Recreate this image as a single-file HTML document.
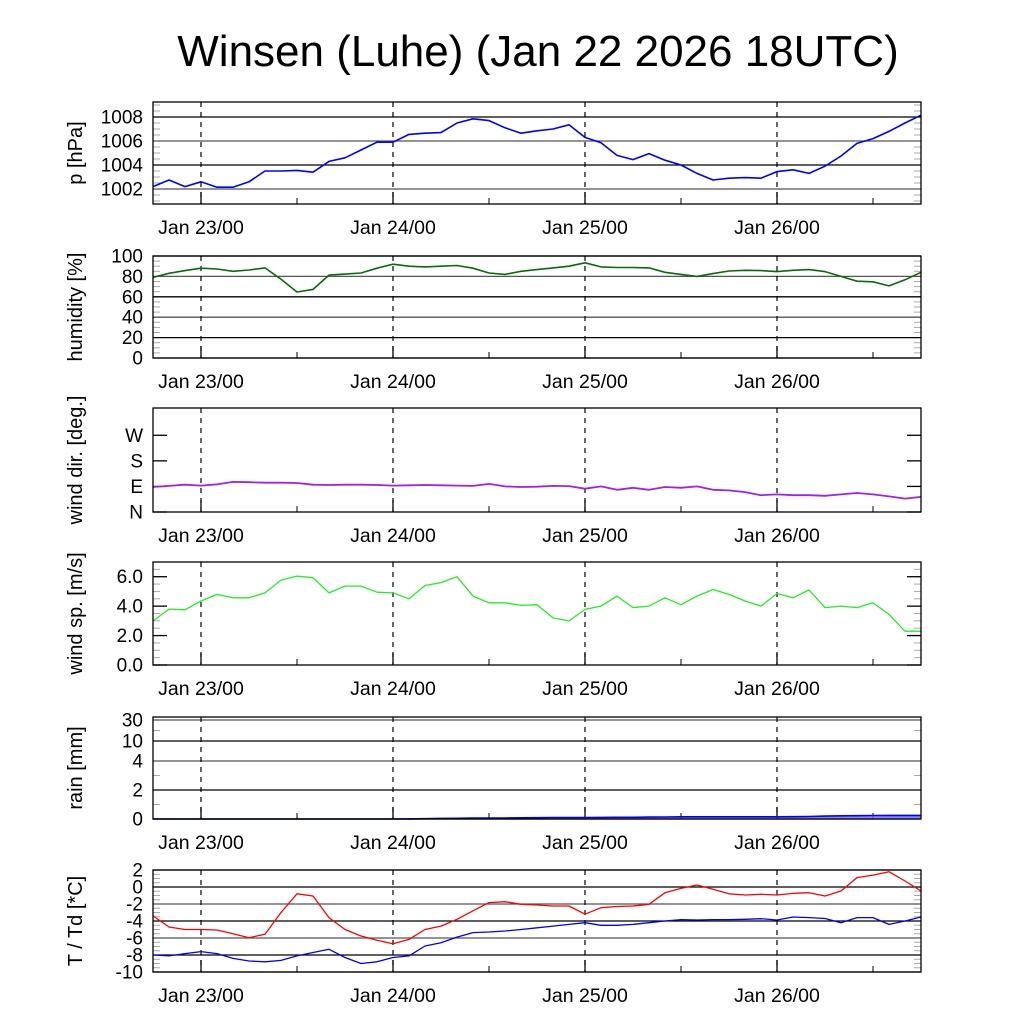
<!DOCTYPE html>
<html><head><meta charset="utf-8">
<style>
html,body{margin:0;padding:0;background:#fff;}
svg{display:block;font-family:"Liberation Sans",sans-serif;}
</style></head>
<body>
<svg id="chart" width="1024" height="1024" viewBox="0 0 1024 1024">
<text x="538" y="66" font-size="44" text-anchor="middle">Winsen (Luhe) (Jan 22 2026 18UTC)</text>
</svg>
<script>
// hours relative to Jan 23 00UTC, every 2 h
const hours = [-6,-4,-2,0,2,4,6,8,10,12,14,16,18,20,22,24,26,28,30,32,34,36,38,40,42,44,46,48,50,52,54,56,58,60,62,64,66,68,70,72,74,76,78,80,82,84,86,88,90];
const dayLabels = ["Jan 23/00","Jan 24/00","Jan 25/00","Jan 26/00"];
const dayHours = [0,24,48,72];
const pressure = [1002.2,1002.75,1002.2,1002.6,1002.15,1002.15,1002.6,1003.5,1003.5,1003.55,1003.4,1004.3,1004.6,1005.25,1005.9,1005.9,1006.55,1006.65,1006.7,1007.5,1007.85,1007.7,1007.1,1006.65,1006.85,1007.0,1007.35,1006.3,1005.85,1004.8,1004.45,1004.95,1004.4,1004.0,1003.3,1002.75,1002.9,1002.95,1002.9,1003.45,1003.6,1003.3,1003.9,1004.75,1005.8,1006.2,1006.8,1007.5,1008.15];
const humidity = [79,83,85.7,88,87.3,85,86.3,88.3,77.3,64.7,67.3,81.3,82.3,83.3,88,92,90,89.3,90,90.7,88,83.3,82,85,86.7,88.3,90,93.3,89.3,88.7,88.7,88.3,84,82,80,82.7,85.3,86,85.7,84.7,86,86.7,84.7,80,75.3,74.7,70.7,76.7,84];
const windDir = [88,92,96,93,97,106,105,103,103,102,96,95,96,96,95,93,94,95,94,93,92,99,90,88,89,92,91,82,90,78,85,78,88,85,90,78,76,70,59,62,59,59,57,62,67,62,55,47,53];
const windSpeed = [3.0,3.8,3.75,4.35,4.8,4.57,4.57,4.9,5.77,6.04,5.93,4.9,5.36,5.36,4.95,4.9,4.5,5.4,5.6,6.0,4.68,4.23,4.23,4.05,4.1,3.2,3.0,3.78,4.0,4.68,3.9,4.0,4.57,4.1,4.68,5.13,4.8,4.35,4.0,4.86,4.57,5.1,3.9,4.0,3.9,4.23,3.44,2.3,2.3];
const rain = [0,0,0,0,0,0,0,0,0,0,0,0,0,0,0,0,0.01,0.02,0.04,0.05,0.06,0.07,0.07,0.08,0.09,0.1,0.1,0.1,0.11,0.12,0.12,0.13,0.14,0.15,0.15,0.15,0.15,0.15,0.15,0.15,0.16,0.17,0.2,0.22,0.23,0.24,0.25,0.25,0.25];
const temp = [-3.4,-4.7,-5.0,-5.0,-5.06,-5.5,-5.96,-5.57,-3.0,-0.8,-1.06,-3.6,-5.0,-5.76,-6.27,-6.67,-6.16,-5.0,-4.6,-3.8,-2.8,-1.84,-1.73,-2.04,-2.12,-2.24,-2.24,-3.2,-2.43,-2.3,-2.24,-2.04,-0.67,-0.16,0.24,-0.27,-0.8,-0.94,-0.86,-0.94,-0.75,-0.67,-1.06,-0.47,1.1,1.4,1.8,0.7,-0.47];
const dewpoint = [-8.0,-8.1,-7.84,-7.6,-7.84,-8.4,-8.7,-8.8,-8.63,-8.1,-7.7,-7.33,-8.3,-9.0,-8.8,-8.3,-8.1,-6.94,-6.55,-5.9,-5.37,-5.3,-5.18,-5.0,-4.8,-4.6,-4.4,-4.2,-4.5,-4.5,-4.4,-4.2,-4.0,-3.84,-3.88,-3.84,-3.84,-3.8,-3.73,-3.88,-3.53,-3.6,-3.7,-4.2,-3.6,-3.6,-4.4,-4.0,-3.53];
const pTicks = [1002,1004,1006,1008];
const hTicks = [0,20,40,60,80,100];
const dirTicks = [0,90,180,270];
const dirLabels = ["N","E","S","W"];
const wsTicks = [0,2,4,6];
const rainTicks = [0,2,4,10,30];
const tTicks = [-10,-8,-6,-4,-2,0,2];

const NS = "http://www.w3.org/2000/svg";
const svg = document.getElementById("chart");
const X0 = 153, X1 = 921, H0 = -6, H1 = 90;
function xScale(h){ return X0 + (h - H0) / (H1 - H0) * (X1 - X0); }
function el(tag, attrs, parent){
  const e = document.createElementNS(NS, tag);
  for (const k in attrs) e.setAttribute(k, attrs[k]);
  (parent || svg).appendChild(e);
  return e;
}
function linY(top, bottom, lo, hi){ return v => bottom - (v - lo) / (hi - lo) * (bottom - top); }
function rainY(v){
  const vs = [0,2,4,10,30], ys = [819,790,761,741,720];
  for (let i = 0; i < vs.length - 1; i++) {
    if (v <= vs[i+1]) return ys[i] + (v - vs[i]) / (vs[i+1] - vs[i]) * (ys[i+1] - ys[i]);
  }
  return ys[ys.length-1];
}

function panel(name, top, bottom, title, yFn, ticks, tickLabels, grid, minor){
  const g = el("g", {});
  
  
  minor.forEach(v => {
    const y = yFn(v);
    if (y < top || y > bottom) return;
    el("line", {x1:X0, x2:X0+7, y1:y, y2:y, stroke:"#aaa", "stroke-width":1}, g);
    el("line", {x1:X1-7, x2:X1, y1:y, y2:y, stroke:"#aaa", "stroke-width":1}, g);
  });
  ticks.forEach((v, i) => {
    const y = yFn(v);
    if (grid) {
      const gl = el("line", {x1:X0, x2:X1, y1:y, y2:y, stroke:(i % 2 ? "#000" : "#555"), "stroke-width":1.3}, g);
      
      
    } else {
      el("line", {x1:X0, x2:X0+14, y1:y, y2:y, stroke:"#000", "stroke-width":1.3}, g);
      el("line", {x1:X1-14, x2:X1, y1:y, y2:y, stroke:"#000", "stroke-width":1.3}, g);
    }
    const t = el("text", {x:143, y:y+6.5, "font-size":19, "text-anchor":"end"}, g);
    t.textContent = tickLabels[i];
    
    
  });
  dayHours.forEach((h, i) => {
    const x = xScale(h);
    el("line", {x1:x, x2:x, y1:top, y2:bottom, stroke:"#000", "stroke-width":1.2, "stroke-dasharray":"5,5"}, g);
    el("line", {x1:x, x2:x, y1:bottom-12, y2:bottom, stroke:"#000", "stroke-width":1.3}, g);
    el("line", {x1:xScale(h+12), x2:xScale(h+12), y1:bottom-6, y2:bottom, stroke:"#000", "stroke-width":1}, g);
    const t = el("text", {x:x, y:bottom+30, "font-size":19.5, "text-anchor":"middle"}, g);
    t.textContent = dayLabels[i];
    
    
  });
  const cy = (top + bottom) / 2;
  const at = el("text", {x:0, y:0, "font-size":20, "text-anchor":"middle", transform:"translate(82," + cy + ") rotate(-90)"}, g);
  at.textContent = title;
  
  
  return g;
}
function frame(name, top, bottom){
  const r = el("rect", {x:X0, y:top, width:X1-X0, height:bottom-top, fill:"none", stroke:"#000", "stroke-width":1.3});
  
  
}
function series(name, vals, yFn, color, width){
  const d = vals.map((v, i) => (i ? "L" : "M") + xScale(hours[i]).toFixed(1) + "," + yFn(v).toFixed(1)).join(" ");
  const p = el("path", {d:d, fill:"none", stroke:color, "stroke-width":width, "stroke-linejoin":"round"});
  
  
  return p;
}
function range(a, b, s){ const r=[]; for (let v=a; v<=b+1e-9; v+=s) r.push(v); return r; }

const yP = linY(102, 204, 1000.75, 1009.25);
panel("pressure", 102, 204, "p [hPa]", yP, pTicks, pTicks.map(String), true, range(1001, 1009, 0.5));
series("pressure-line", pressure, yP, "#0000ff", 1.6);
frame("pressure", 102, 204);

const yH = linY(256, 358, 0, 100);
panel("humidity", 256, 358, "humidity [%]", yH, hTicks, hTicks.map(String), true, range(0, 100, 5));
series("humidity-line", humidity, yH, "#0b6b0b", 1.6);
frame("humidity", 256, 358);

const yD = linY(408, 512, 0, 366);
panel("wind-dir", 408, 512, "wind dir. [deg.]", yD, dirTicks, dirLabels, false, []);
series("wind-dir-line", windDir, yD, "#a020f0", 1.8);
frame("wind-dir", 408, 512);

const yS = linY(562, 665, 0, 7.0);
panel("wind-speed", 562, 665, "wind sp. [m/s]", yS, wsTicks, wsTicks.map(v => v.toFixed(1)), false, range(0, 7, 0.5));
series("wind-speed-line", windSpeed, yS, "#22ee22", 1.3);
frame("wind-speed", 562, 665);

panel("rain", 717, 819, "rain [mm]", rainY, rainTicks, rainTicks.map(String), true, [1,3,20]);
const rd = "M" + xScale(hours[0]) + "," + rainY(0) + " " + rain.map((v, i) => "L" + xScale(hours[i]).toFixed(1) + "," + rainY(v).toFixed(1)).join(" ") + " L" + xScale(hours[hours.length-1]) + "," + rainY(0) + " Z";
const ra = el("path", {d:rd, fill:"#6a6aff", stroke:"none", opacity:0.8});


series("rain-line", rain, rainY, "#0000ff", 1.6);
frame("rain", 717, 819);

const yT = linY(870, 972, -10, 2);
panel("temperature", 870, 972, "T / Td [*C]", yT, tTicks, tTicks.map(String), true, range(-10, 2, 0.5));
series("temperature-line", temp, yT, "#ff0000", 1.3);
series("dewpoint-line", dewpoint, yT, "#0000ff", 1.3);
frame("temperature", 870, 972);
</script>
</body></html>
